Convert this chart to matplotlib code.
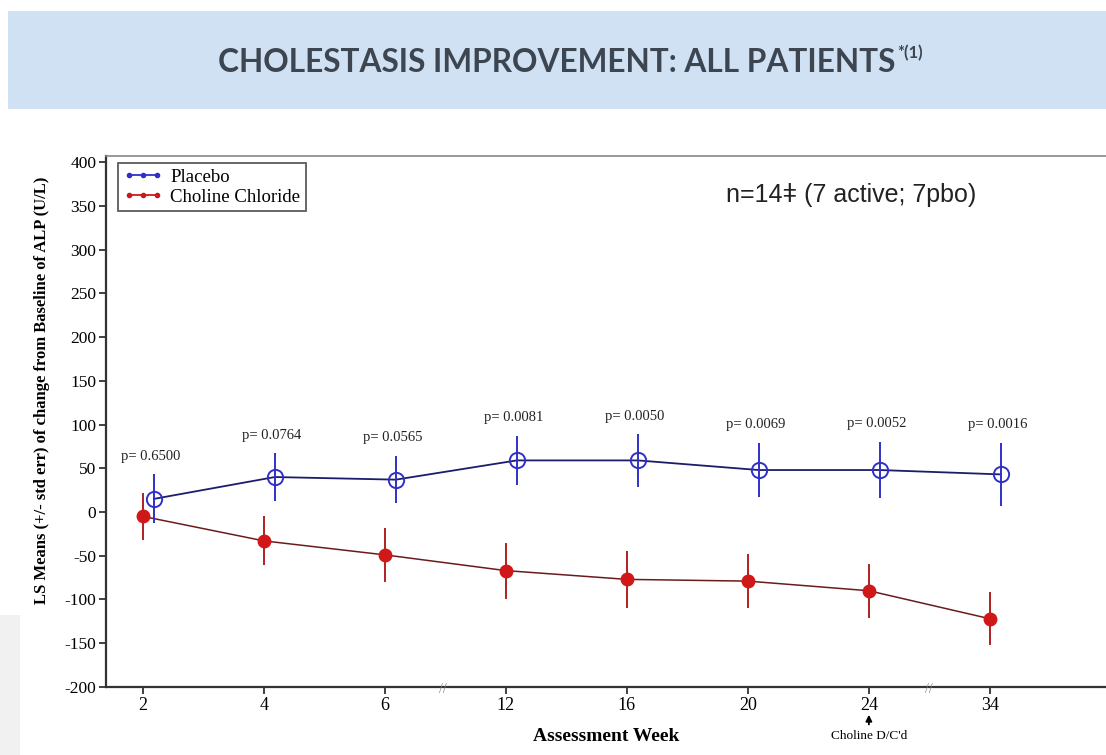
import matplotlib
matplotlib.use("Agg")
import matplotlib.pyplot as plt
from matplotlib.patches import Rectangle
from matplotlib.transforms import offset_copy

weeks = ["2", "4", "6", "12", "16", "20", "24", "34"]
placebo_mean = [15, 40, 37, 59, 59, 48, 48, 43]
placebo_err = [28, 27, 27, 28, 30, 31, 32, 36]
choline_mean = [-5, -33, -49, -67, -77, -79, -90, -122]
choline_err = [27, 28, 31, 32, 33, 31, 31, 30]
p_values = ["p= 0.6500", "p= 0.0764", "p= 0.0565", "p= 0.0081",
            "p= 0.0050", "p= 0.0069", "p= 0.0052", "p= 0.0016"]
yticks = [-200, -150, -100, -50, 0, 50, 100, 150, 200, 250, 300, 350, 400]

serif = ["Liberation Serif", "DejaVu Serif"]
blue = "#3030c8"
red = "#d01818"

fig = plt.figure(figsize=(11.06, 7.55), dpi=100)

# title banner
fig.patches.append(Rectangle((0.007, 0.855), 0.993, 0.13, transform=fig.transFigure,
                             facecolor="#cfe1f2", edgecolor="none", zorder=0))
fig.patches.append(Rectangle((0.0, 0.0), 0.018, 0.185, transform=fig.transFigure,
                             facecolor="#f1f1f1", edgecolor="none", zorder=0))
title = fig.text(0.503, 0.917, "CHOLESTASIS IMPROVEMENT: ALL PATIENTS", ha="center", va="center",
                 fontsize=22.8, fontweight="bold", color="#3d4650",
                 family=["Lato", "DejaVu Sans"])
fig.canvas.draw()
bb = title.get_window_extent().transformed(fig.transFigure.inverted())
fig.text(bb.x1 + 0.002, 0.93, "*(1)", ha="left", va="center", fontsize=12, fontweight="bold",
         color="#3d4650", family=["Lato", "DejaVu Sans"])

ax = fig.add_axes([0.0958, 0.0901, 0.9042, 0.7033])
x = list(range(len(weeks)))
xp = [i + 0.09 for i in x]

ax.errorbar(xp, placebo_mean, yerr=placebo_err, color=blue, ecolor=blue, elinewidth=1.4,
            capsize=0, fmt="none", zorder=3)
ax.plot(xp, placebo_mean, color="#1c1c6a", lw=1.3, zorder=2)
ax.plot(xp, placebo_mean, "o", ms=11, mfc="none", mec=blue, mew=1.4, zorder=4)

ax.errorbar(x, choline_mean, yerr=choline_err, color=red, ecolor="#b02020", elinewidth=1.4,
            capsize=0, fmt="none", zorder=3)
ax.plot(x, choline_mean, color="#6a1c1c", lw=1.1, zorder=2)
ax.plot(x, choline_mean, "o", ms=9, mfc=red, mec=red, zorder=4)

for xi, m, e, p in zip(xp, placebo_mean, placebo_err, p_values):
    ax.annotate(p, (xi, m + e), xytext=(-2, 13), textcoords="offset points", ha="center",
                va="center", fontsize=10.5, family=serif, color="#222222")

ax.set_xlim(-0.306, 7.96)
ax.set_ylim(-200, 407)
ax.set_xticks(x)
ax.set_xticklabels(weeks, family=serif, fontsize=13)
ax.set_yticks(yticks)
ax.set_yticklabels([str(v) for v in yticks], family=serif, fontsize=12.5)
ax.tick_params(axis="both", direction="out", length=5, width=1.3, color="#333333", pad=2)
for s in ["left", "bottom"]:
    ax.spines[s].set_linewidth(1.6)
    ax.spines[s].set_color("#333333")
ax.spines["top"].set_color("#888888")
ax.spines["top"].set_linewidth(1.2)
ax.spines["right"].set_visible(False)

ax.set_ylabel("LS Means (+/- std err) of change from Baseline of ALP (U/L)", family=serif,
              fontsize=12, fontweight="bold")
ax.yaxis.set_label_coords(-0.056, 0.559)
ax.set_xlabel("Assessment Week", family=serif, fontsize=14, fontweight="bold", labelpad=10)

# axis breaks
for bx in [2.48, 6.5]:
    ax.annotate("//", (bx, -200), xytext=(0, -2), textcoords="offset points", ha="center",
                va="center", fontsize=10, color="#888888", family=serif,
                annotation_clip=False)

# Choline D/C'd annotation
ax.annotate("Choline D/C'd", xy=(6, -200), xycoords="data", xytext=(0, -35),
            textcoords="offset points", ha="center", va="center", fontsize=9.5,
            family=serif, annotation_clip=False)
t_tip = offset_copy(ax.transData, fig=fig, x=0, y=-18, units="points")
t_tail = offset_copy(ax.transData, fig=fig, x=0, y=-29, units="points")
ax.annotate("", xy=(6, -200), xycoords=t_tip, xytext=(6, -200), textcoords=t_tail,
            arrowprops=dict(arrowstyle="-|>", color="black", lw=1.3, mutation_scale=9),
            annotation_clip=False)

# legend
h1, = ax.plot([], [], color=blue, lw=1.3, marker="o", ms=3, label="Placebo")
h2, = ax.plot([], [], color=red, lw=1.3, marker="o", ms=3, label="Choline Chloride")
leg = ax.legend([h1, h2], ["Placebo", "Choline Chloride"], loc="upper left",
                bbox_to_anchor=(0.012, 0.987), borderaxespad=0, numpoints=3,
                prop={"family": serif, "size": 13.5}, frameon=True, fancybox=False,
                edgecolor="#333333", handlelength=2.1, borderpad=0.3, labelspacing=0.15,
                handletextpad=0.4)
leg.get_frame().set_linewidth(1.3)

fig.text(0.77, 0.742, "n=14\u01c2 (7 active; 7pbo)", ha="center", va="center",
         fontsize=18, color="#222222", family=["Liberation Sans", "DejaVu Sans"])

fig.savefig("out.png", dpi=100)
